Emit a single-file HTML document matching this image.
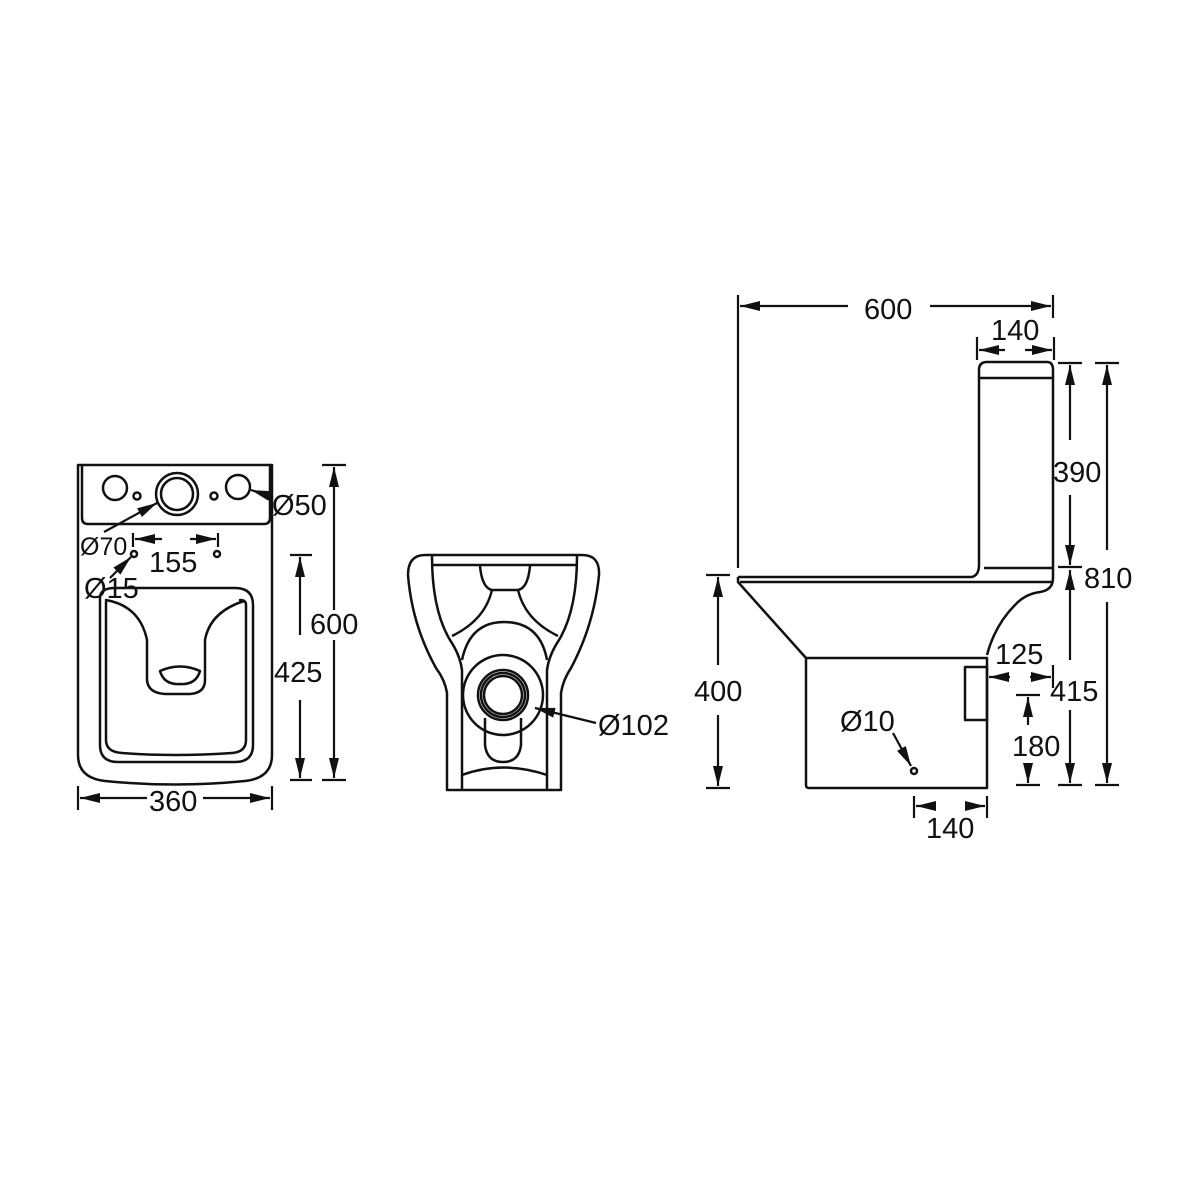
<!DOCTYPE html>
<html><head><meta charset="utf-8"><style>
html,body{margin:0;padding:0;background:#fff}
svg{display:block}
text{font-family:"Liberation Sans",Arial,sans-serif;fill:#111}
</style></head><body>
<svg width="1200" height="1200" viewBox="0 0 1200 1200" xmlns="http://www.w3.org/2000/svg">
<defs>
<marker id="a" viewBox="0 0 20 10" refX="20" refY="5" markerWidth="20" markerHeight="10" markerUnits="userSpaceOnUse" orient="auto"><path d="M0,0 L20,5 L0,10 z" fill="#111"/></marker>
</defs>
<g fill="none" stroke="#111" stroke-width="2.5" stroke-linecap="round" stroke-linejoin="round">
<path d="M78,465 H272 V755 Q272,778 245,781 Q175,788 105,781 Q78,778 78,755 Z"/>
<path d="M82,465 V518 Q82,524 88,524 H264 Q270,524 270,518 V465"/>
<circle cx="115" cy="488" r="12"/>
<circle cx="137" cy="496" r="3.5"/>
<circle cx="177" cy="494" r="21"/>
<circle cx="177" cy="494" r="16"/>
<circle cx="214" cy="496" r="3.5"/>
<circle cx="238" cy="487" r="12"/>
<circle cx="134" cy="554" r="3"/>
<circle cx="217" cy="554" r="3"/>
<path d="M100,598 Q100,588 115,588 H235 Q253,588 253,605 V745 Q253,762 235,762 H118 Q100,762 100,745 Z"/>
<path d="M106,602 V740 Q106,752 122,753 Q175,757 232,753 Q246,752 246,740 V605 Q246,600 240,600"/>
<path d="M106,600 Q140,606 147,640 V680 Q148,693 165,694 H190 Q205,693 205,680 V640 Q210,612 244,601"/>
<path d="M160,671 Q180,662 200,671 Q196,685 180,684 Q164,685 160,671 Z"/>
</g>
<g stroke="#111" stroke-width="2.2" fill="none">
<line x1="322" y1="465" x2="346" y2="465"/><line x1="322" y1="780" x2="346" y2="780"/>
<line x1="334" y1="610" x2="334" y2="467" marker-end="url(#a)"/>
<line x1="334" y1="640" x2="334" y2="778" marker-end="url(#a)"/>
<line x1="290" y1="555" x2="312" y2="555"/><line x1="290" y1="780" x2="312" y2="780"/>
<line x1="300" y1="635" x2="300" y2="557" marker-end="url(#a)"/>
<line x1="300" y1="700" x2="300" y2="778" marker-end="url(#a)"/>
<line x1="78" y1="786" x2="78" y2="810"/><line x1="272" y1="786" x2="272" y2="810"/>
<line x1="147" y1="798" x2="80" y2="798" marker-end="url(#a)"/>
<line x1="203" y1="798" x2="270" y2="798" marker-end="url(#a)"/>
<line x1="133" y1="533" x2="133" y2="547"/><line x1="218" y1="533" x2="218" y2="547"/>
<line x1="162" y1="539" x2="135" y2="539" marker-end="url(#a)"/>
<line x1="190" y1="539" x2="216" y2="539" marker-end="url(#a)"/>
<line x1="104" y1="532" x2="157" y2="503" marker-end="url(#a)"/>
<line x1="110" y1="578" x2="131" y2="557" marker-end="url(#a)"/>
<line x1="273" y1="497" x2="251" y2="490" marker-end="url(#a)"/>
</g>
<g font-size="29">
<text x="272" y="515">Ø50</text>
<text x="80" y="555" font-size="25">Ø70</text>
<text x="149" y="572">155</text>
<text x="84" y="598">Ø15</text>
<text x="310" y="634">600</text>
<text x="274" y="682">425</text>
<text x="149" y="811">360</text>
</g>
<g fill="none" stroke="#111" stroke-width="2.5" stroke-linejoin="round">
<path d="M447,790 V693 Q445,680 436,668 Q412,625 408,575 Q408,555 425,555 H582 Q600,555 599,575 Q594,625 571,668 Q563,680 561,693 V790 Z"/>
<path d="M432,556 Q432,610 450,640 Q460,655 462,670 V790"/>
<path d="M577,556 Q577,610 559,640 Q549,655 547,670 V790"/>
<line x1="432" y1="565" x2="577" y2="565"/>
<path d="M480,566 Q482,588 492,590 H518 Q528,588 530,566"/>
<path d="M492,590 Q485,620 452,636"/>
<path d="M518,590 Q525,620 558,636"/>
<path d="M462,660 Q470,622 504,622 Q540,622 547,660"/>
<circle cx="503" cy="695" r="40"/>
<circle cx="503" cy="695" r="25"/>
<circle cx="503" cy="695" r="22"/>
<circle cx="503" cy="695" r="19"/>
<path d="M485,718 V745 Q487,762 503,762 Q519,762 521,745 V718"/>
<path d="M462,775 Q503,760 547,775"/>
</g>
<g stroke="#111" stroke-width="2.2" fill="none">
<line x1="596" y1="723" x2="535" y2="708" marker-end="url(#a)"/>
</g>
<text x="598" y="735" font-size="29">Ø102</text>
<g fill="none" stroke="#111" stroke-width="2.5" stroke-linejoin="round">
<path d="M979,565 V370 Q979,362 987,362 H1047 Q1053,362 1053,370 V578 Q1053,590 1040,592 Q1025,594 1015,605 Q995,625 987,655"/>
<line x1="979" y1="378" x2="1053" y2="378"/>
<line x1="984" y1="568" x2="1053" y2="568"/>
<path d="M738,577 H972 Q979,575 979,565"/>
<line x1="740" y1="582" x2="1053" y2="582"/>
<path d="M738,577 V582 L806,658"/>
<path d="M806,658 H987 V788 H809 Q806,788 806,785 Z"/>
<rect x="965" y="667" width="22" height="53"/>
<circle cx="914" cy="771" r="3"/>
</g>
<g stroke="#111" stroke-width="2.2" fill="none">
<line x1="738" y1="295" x2="738" y2="568"/>
<line x1="1053" y1="295" x2="1053" y2="318"/>
<line x1="848" y1="306" x2="740" y2="306" marker-end="url(#a)"/>
<line x1="930" y1="306" x2="1051" y2="306" marker-end="url(#a)"/>
<line x1="977" y1="337" x2="977" y2="360"/><line x1="1054" y1="337" x2="1054" y2="360"/>
<line x1="1005" y1="350" x2="979" y2="350" marker-end="url(#a)"/>
<line x1="1025" y1="350" x2="1052" y2="350" marker-end="url(#a)"/>
<line x1="1058" y1="363" x2="1082" y2="363"/><line x1="1058" y1="567" x2="1082" y2="567"/>
<line x1="1070" y1="440" x2="1070" y2="365" marker-end="url(#a)"/>
<line x1="1070" y1="495" x2="1070" y2="565" marker-end="url(#a)"/>
<line x1="1095" y1="363" x2="1119" y2="363"/><line x1="1095" y1="785" x2="1119" y2="785"/>
<line x1="1107" y1="550" x2="1107" y2="365" marker-end="url(#a)"/>
<line x1="1107" y1="602" x2="1107" y2="783" marker-end="url(#a)"/>
<line x1="1058" y1="785" x2="1082" y2="785"/>
<line x1="1070" y1="660" x2="1070" y2="570" marker-end="url(#a)"/>
<line x1="1070" y1="710" x2="1070" y2="783" marker-end="url(#a)"/>
<line x1="1016" y1="695" x2="1040" y2="695"/><line x1="1016" y1="785" x2="1040" y2="785"/>
<line x1="1028" y1="725" x2="1028" y2="697" marker-end="url(#a)"/>
<line x1="1028" y1="765" x2="1028" y2="783" marker-end="url(#a)"/>
<line x1="1053" y1="665" x2="1053" y2="688"/>
<line x1="1010" y1="677" x2="989" y2="677" marker-end="url(#a)"/>
<line x1="1030" y1="677" x2="1051" y2="677" marker-end="url(#a)"/>
<line x1="706" y1="575" x2="730" y2="575"/><line x1="706" y1="788" x2="730" y2="788"/>
<line x1="718" y1="665" x2="718" y2="577" marker-end="url(#a)"/>
<line x1="718" y1="715" x2="718" y2="786" marker-end="url(#a)"/>
<line x1="914" y1="796" x2="914" y2="818"/><line x1="987" y1="796" x2="987" y2="818"/>
<line x1="935" y1="806" x2="916" y2="806" marker-end="url(#a)"/>
<line x1="965" y1="806" x2="985" y2="806" marker-end="url(#a)"/>
<line x1="893" y1="733" x2="911" y2="766" marker-end="url(#a)"/>
</g>
<g font-size="29">
<text x="864" y="319">600</text>
<text x="991" y="340">140</text>
<text x="1053" y="482">390</text>
<text x="1084" y="588">810</text>
<text x="995" y="664">125</text>
<text x="1050" y="701">415</text>
<text x="1012" y="756">180</text>
<text x="840" y="731">Ø10</text>
<text x="694" y="701">400</text>
<text x="926" y="838">140</text>
</g>
</svg>
</body></html>
